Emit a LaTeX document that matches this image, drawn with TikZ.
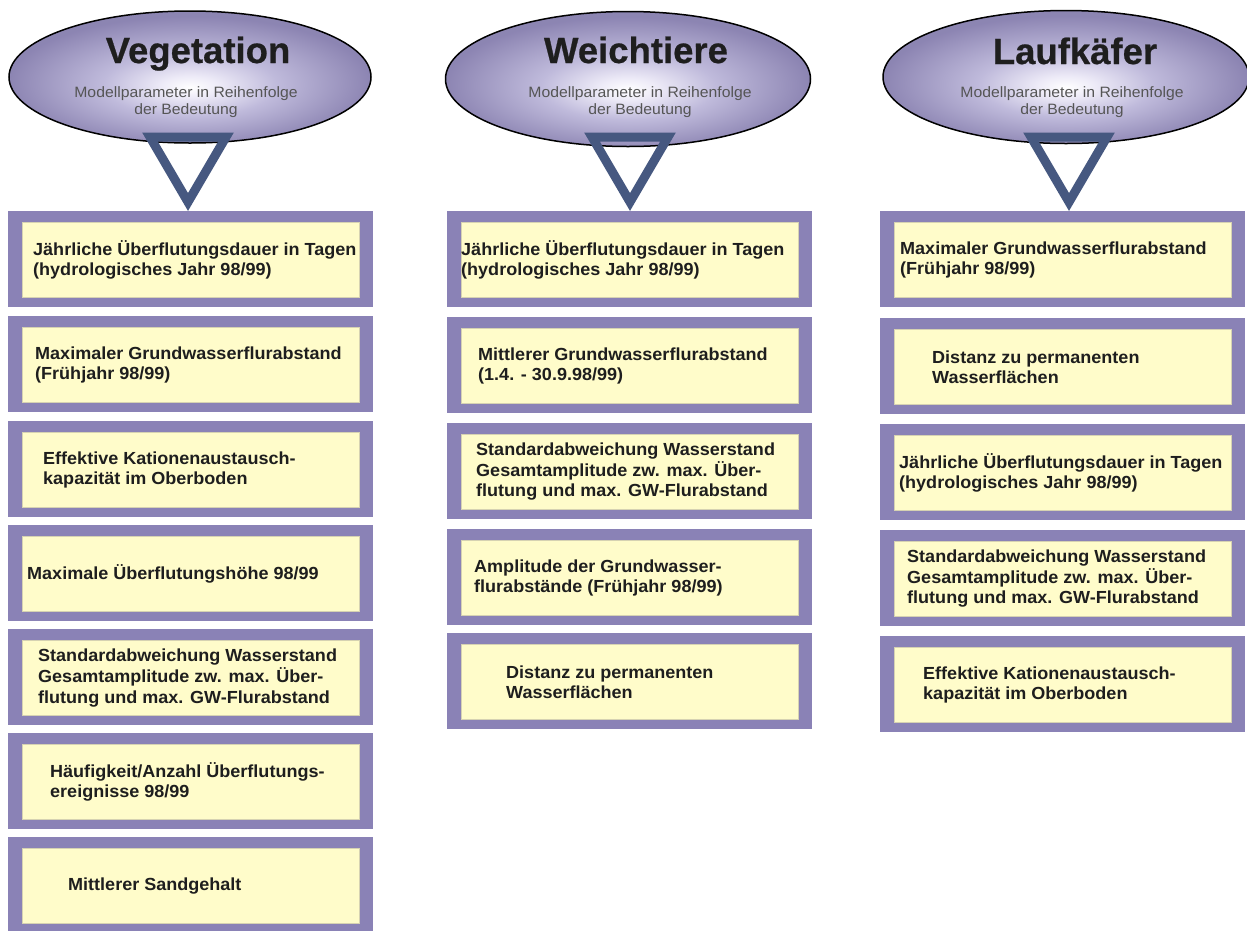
\documentclass[tikz,border=0pt]{standalone}
\usepackage{fontspec}
\setmainfont{Liberation Sans}
\newfontfamily\itemfont[FakeStretch=1.03]{Liberation Sans}
\newfontfamily\titlefont[FakeStretch=1.0,FakeBold=0.6]{Liberation Sans}
\newfontfamily\subfont[FakeStretch=1.05]{Liberation Sans}
\usetikzlibrary{shapes.geometric}
\definecolor{boxpurple}{RGB}{138,130,182}
\definecolor{boxyellow}{RGB}{255,252,202}
\definecolor{yellowedge}{RGB}{214,210,178}
\definecolor{triblue}{RGB}{70,88,128}
\definecolor{textdark}{RGB}{30,30,30}
\definecolor{subgray}{RGB}{85,85,85}
\pgfdeclareradialshading{ellshade}{\pgfpoint{0bp}{-4bp}}{rgb(0bp)=(1,1,1); rgb(4bp)=(0.93,0.92,0.97); rgb(12bp)=(0.75,0.73,0.86); rgb(25bp)=(0.55,0.52,0.70); rgb(50bp)=(0.55,0.52,0.70)}
\tikzset{
  outerbox/.style={rectangle, fill=boxpurple, draw=none, minimum width=365pt, minimum height=96pt, anchor=north west, inner sep=0pt},
  innerbox/.style={rectangle, fill=boxyellow, draw=yellowedge, line width=0.8pt, minimum width=337pt, minimum height=75pt, anchor=north west, inner sep=0pt},
  itemtext/.style={anchor=west, align=left, inner sep=0pt, text=textdark, font=\itemfont\bfseries\fontsize{17.5}{20.5}\selectfont},
  ell/.style={ellipse, draw=black, line width=1.5pt, shading=ellshade, inner sep=0pt},
  titletext/.style={anchor=base, inner sep=0pt, text=textdark, font=\titlefont\bfseries\fontsize{36.5}{40}\selectfont},
  subtext/.style={anchor=center, align=center, inner sep=0pt, text=subgray, font=\subfont\fontsize{15}{17.5}\selectfont},
  tri/.style={draw=triblue, line width=9pt, line join=miter}
}
\newcommand{\paramitem}[5]{%
  \node[outerbox] (#1) at ({#2},{#3}) {};
  \node[innerbox] (#1in) at ([xshift=14pt,yshift=-11pt]#1.north west) {};
  \node[itemtext] (#1txt) at ({#4},{#3+49}) {#5};
}
\begin{document}
\begin{tikzpicture}[x=1pt,y=-1pt]
\useasboundingbox (0,0) rectangle (1247,930);
\fill[white] (0,0) rectangle (1247,930);

% headers
\node[ell, minimum width=362pt, minimum height=132pt] (e1) at (190,77) {};
\node[ell, minimum width=365pt, minimum height=135pt] (e2) at (628,79) {};
\node[ell, minimum width=366pt, minimum height=133pt] (e3) at (1066,77) {};

\node[titletext] (t1) at (198,63) {Vegetation};
\node[titletext] (t2) at (636,63) {Weichtiere};
\node[titletext] (t3) at (1075,64) {Laufkäfer};

\node[subtext] (s1) at (186,102) {Modellparameter in Reihenfolge\\der Bedeutung};
\node[subtext] (s2) at (640,102) {Modellparameter in Reihenfolge\\der Bedeutung};
\node[subtext] (s3) at (1072,102) {Modellparameter in Reihenfolge\\der Bedeutung};

% column 1
\paramitem{b11}{8}{211}{33}{Jährliche Überflutungsdauer in Tagen\\(hydrologisches Jahr 98/99)}
\paramitem{b12}{8}{316}{35}{Maximaler Grundwasserflurabstand\\(Frühjahr 98/99)}
\paramitem{b13}{8}{421}{43}{Effektive Kationenaustausch-\\kapazität im Oberboden}
\paramitem{b14}{8}{525}{27}{Maximale Überflutungshöhe 98/99}
\paramitem{b15}{8}{629}{38}{Standardabweichung Wasserstand\\Gesamtamplitude zw. max. Über-\\flutung und max. GW-Flurabstand}
\paramitem{b16}{8}{733}{50}{Häufigkeit/Anzahl Überflutungs-\\ereignisse 98/99}
\paramitem{b17}{8}{837}{68}{Mittlerer Sandgehalt}

% column 2
\paramitem{b21}{447}{211}{461}{Jährliche Überflutungsdauer in Tagen\\(hydrologisches Jahr 98/99)}
\paramitem{b22}{447}{317}{478}{Mittlerer Grundwasserflurabstand\\(1.4. - 30.9.98/99)}
\paramitem{b23}{447}{423}{476}{Standardabweichung Wasserstand\\Gesamtamplitude zw. max. Über-\\flutung und max. GW-Flurabstand}
\paramitem{b24}{447}{529}{474}{Amplitude der Grundwasser-\\flurabstände (Frühjahr 98/99)}
\paramitem{b25}{447}{633}{506}{Distanz zu permanenten\\Wasserflächen}

% column 3
\paramitem{b31}{880}{211}{900}{Maximaler Grundwasserflurabstand\\(Frühjahr 98/99)}
\paramitem{b32}{880}{318}{932}{Distanz zu permanenten\\Wasserflächen}
\paramitem{b33}{880}{424}{899}{Jährliche Überflutungsdauer in Tagen\\(hydrologisches Jahr 98/99)}
\paramitem{b34}{880}{530}{907}{Standardabweichung Wasserstand\\Gesamtamplitude zw. max. Über-\\flutung und max. GW-Flurabstand}
\paramitem{b35}{880}{636}{923}{Effektive Kationenaustausch-\\kapazität im Oberboden}

% triangles (pointers from header to first box)
\draw[tri] (150,137) -- (226,137) -- (188,202) -- cycle;
\draw[tri] (592,137) -- (668,137) -- (630,202) -- cycle;
\draw[tri] (1031,137) -- (1107,137) -- (1069,202) -- cycle;
\end{tikzpicture}
\end{document}
